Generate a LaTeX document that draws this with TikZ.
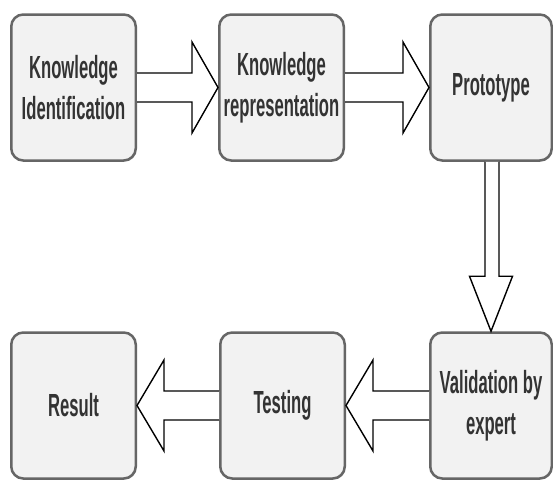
\documentclass[tikz,border=0pt]{standalone}
\usepackage{fontspec}
\newfontfamily\lblfont[FakeStretch=0.52]{Liberation Sans}
\usetikzlibrary{calc,shadows}
\definecolor{boxfill}{HTML}{F2F2F2}
\definecolor{boxline}{HTML}{666666}
\definecolor{txt}{HTML}{333333}
\begin{document}
\begin{tikzpicture}[x=1pt,y=-1pt,
  box/.style={draw=boxline, line width=2.5pt, fill=boxfill, rounded corners=12pt,
    minimum width=124.5pt, minimum height=146pt, inner sep=0pt, align=center,
    font=\lblfont\bfseries\fontsize{32}{41}\selectfont, text=txt,
    drop shadow={shadow xshift=0.8pt, shadow yshift=-1.2pt, opacity=0.35}},
  narrowbox/.style={box, minimum width=121.5pt},
  fat/.style={draw=black, line width=1.4pt, fill=white, line join=miter}]
\useasboundingbox (0,0) rectangle (553,479);
\fill[white] (0,0) rectangle (553,479);
% boxes
\node[box] (ki) at (73.5,87.5) {Knowledge\\Identification};
\node[box] (kr) at (281.5,87.5) {Knowledge\\representation};
\node[narrowbox] (pr) at (491,87.5) {Prototype};
\node[narrowbox] (va) at (491,405.5) {Validation by\\expert};
\node[box] (te) at (282.5,405.5) {Testing};
\node[box] (re) at (73.5,405.5) {Result};
% right arrows
\draw[fat] ($(ki.east)+(0,-14.5)$) -- ($(kr.west)+(-26,-14.5)$) -- ($(kr.west)+(-26,-45.5)$)
  -- (kr.west) -- ($(kr.west)+(-26,45.5)$) -- ($(kr.west)+(-26,14.5)$) -- ($(ki.east)+(0,14.5)$);
\draw[fat] ($(kr.east)+(0,-14.5)$) -- ($(pr.west)+(-26,-14.5)$) -- ($(pr.west)+(-26,-45.5)$)
  -- (pr.west) -- ($(pr.west)+(-26,45.5)$) -- ($(pr.west)+(-26,14.5)$) -- ($(kr.east)+(0,14.5)$);
% down arrow
\draw[fat] ($(pr.south)+(-6,0)$) -- ($(va.north)+(-6,-55)$) -- ($(va.north)+(-21.5,-55)$)
  -- (va.north) -- ($(va.north)+(21.5,-55)$) -- ($(va.north)+(8,-55)$) -- ($(pr.south)+(8,0)$);
% left arrows
\draw[fat] ($(va.west)+(0,-14.5)$) -- ($(te.east)+(27,-14.5)$) -- ($(te.east)+(27,-45.5)$)
  -- (te.east) -- ($(te.east)+(27,45.5)$) -- ($(te.east)+(27,14.5)$) -- ($(va.west)+(0,14.5)$);
\draw[fat] ($(te.west)+(0,-14.5)$) -- ($(re.east)+(27,-14.5)$) -- ($(re.east)+(27,-45.5)$)
  -- (re.east) -- ($(re.east)+(27,45.5)$) -- ($(re.east)+(27,14.5)$) -- ($(te.west)+(0,14.5)$);
\end{tikzpicture}
\end{document}
